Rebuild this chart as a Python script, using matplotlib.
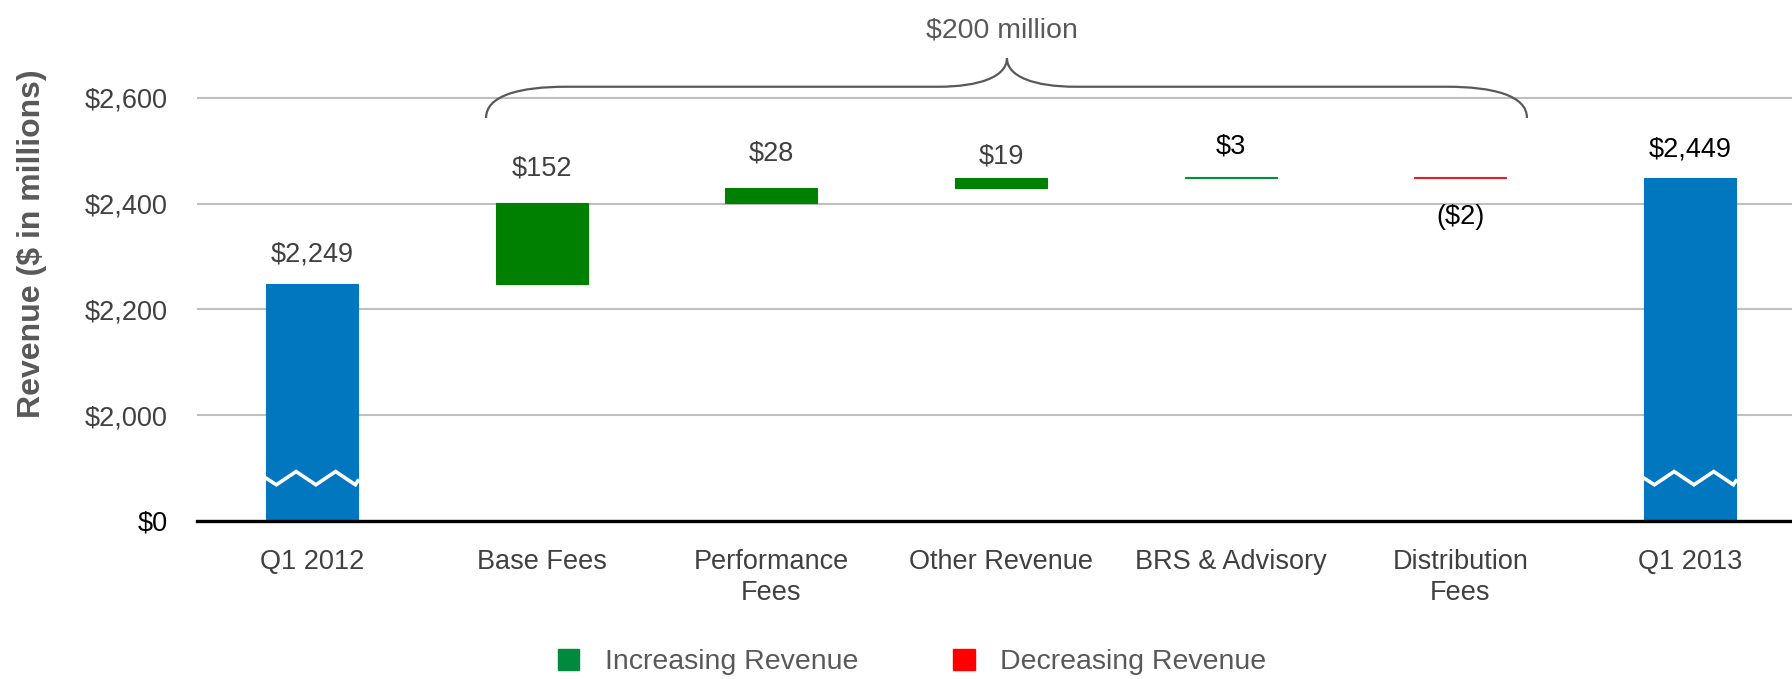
import numpy as np
import matplotlib.pyplot as plt
from matplotlib.path import Path
from matplotlib.patches import PathPatch, Patch

plt.rcParams['font.family'] = ['Liberation Sans', 'DejaVu Sans']

# data
categories = ['Q1 2012', 'Base Fees', 'Performance\nFees', 'Other Revenue',
              'BRS & Advisory', 'Distribution\nFees', 'Q1 2013']
start_total = 2249
changes = [152, 28, 19, 3, -2]
end_total = 2449
value_labels = ['$2,249', '$152', '$28', '$19', '$3', '($2)', '$2,449']
brace_label = '$200 million'

# broken axis: the floor of the plot stands for $0
axis_floor = 1800
yticks = [1800, 2000, 2200, 2400, 2600]
ytick_labels = ['$0', '$2,000', '$2,200', '$2,400', '$2,600']

blue = '#0077BF'
colors = [blue, '#008000', '#008000', '#008000', '#00923F', '#E3202A', blue]
label_colors = ['#404040', '#404040', '#404040', '#404040', 'black', 'black', 'black']
label_offsets = [21, 25, 25, 16, 22, -28, 20]  # points above (or below) the bar

# waterfall geometry
steps = np.array(changes)
running = start_total + np.concatenate([[0], np.cumsum(steps)])
bottoms = [axis_floor] + list(np.minimum(running[:-1], running[1:])) + [axis_floor]
heights = [start_total - axis_floor] + list(np.abs(steps)) + [end_total - axis_floor]
tops = [b + h for b, h in zip(bottoms, heights)]
x = np.arange(len(categories))
w = 0.4

fig = plt.figure(figsize=(17.92, 6.79), dpi=100)
ax = fig.add_axes([0.110, 0.2327, 0.890, 0.7673])

ax.bar(x, heights, bottom=bottoms, width=w, color=colors, edgecolor=colors,
       linewidth=0.8, zorder=3)

# zigzag break marks on the total bars
for i in [0, len(categories) - 1]:
    left = x[i] - w / 2
    zx = left + np.array([0, 0.045, 0.131, 0.217, 0.303, 0.389, 0.4])
    zy = 1881 + np.array([0, -1, 1, -1, 1, -1, -0.4]) * 12.5
    ax.plot(zx, zy, color='white', lw=2.6, zorder=4, solid_joinstyle='miter')

# value labels
for i, lab in enumerate(value_labels):
    off = label_offsets[i]
    yref = tops[i] if off > 0 else bottoms[i]
    ax.annotate(lab, (x[i], yref), xytext=(0, off), textcoords='offset points',
                ha='center', va='center', fontsize=19.5, color=label_colors[i])

# brace over the changes
bl, br, bm = 0.758, 5.29, 3.026
yl, yh, yt = 2562, 2621, 2675
verts = [(bl, yl), (bl, 2605), (bl + 0.15, yh), (bl + 0.35, yh),
         (bm - 0.3, yh),
         (bm - 0.12, yh), (bm, 2640), (bm, yt),
         (bm, 2640), (bm + 0.12, yh), (bm + 0.3, yh),
         (br - 0.35, yh),
         (br - 0.15, yh), (br, 2605), (br, yl)]
codes = [Path.MOVETO, Path.CURVE4, Path.CURVE4, Path.CURVE4,
         Path.LINETO,
         Path.CURVE4, Path.CURVE4, Path.CURVE4,
         Path.CURVE4, Path.CURVE4, Path.CURVE4,
         Path.LINETO,
         Path.CURVE4, Path.CURVE4, Path.CURVE4]
ax.add_patch(PathPatch(Path(verts, codes), facecolor='none', edgecolor='#595959',
                       lw=1.6, zorder=5, clip_on=False))
ax.text(bm - 0.02, 2728, brace_label, ha='center', va='center', fontsize=20.5,
        color='#595959')

# axes styling
ax.set_xlim(-0.5, 6.444)
ax.set_ylim(axis_floor, 2785)
ax.set_yticks(yticks)
ax.set_yticklabels(ytick_labels)
ax.set_xticks(x)
ax.set_xticklabels(categories, linespacing=1.25)
ax.tick_params(axis='both', length=0, labelsize=19.5, labelcolor='#404040')
ax.tick_params(axis='y', pad=21)
ax.tick_params(axis='x', pad=20)
ax.get_yticklabels()[0].set_color('black')
for s in ['top', 'right', 'left']:
    ax.spines[s].set_visible(False)
ax.spines['bottom'].set_linewidth(2.4)
ax.spines['bottom'].set_color('black')
ax.spines['bottom'].set_zorder(6)
ax.yaxis.grid(True, color='#BFBFBF', lw=1.5, zorder=0)
ax.set_axisbelow(True)

ax.set_ylabel('Revenue ($ in millions)', fontsize=23, fontweight='bold',
              color='#595959')
ax.yaxis.set_label_coords(-0.094, 0.533)

handles = [Patch(color='#008A3E', label='Increasing Revenue'),
           Patch(color='#FF0000', label='Decreasing Revenue')]
fig.legend(handles=handles, loc='center', bbox_to_anchor=(0.509, 0.025),
           ncol=2, frameon=False, fontsize=20.5, labelcolor='#595959',
           handlelength=0.75, handleheight=0.75, handletextpad=0.9,
           columnspacing=3.35)

fig.savefig('out.png', dpi=100)
